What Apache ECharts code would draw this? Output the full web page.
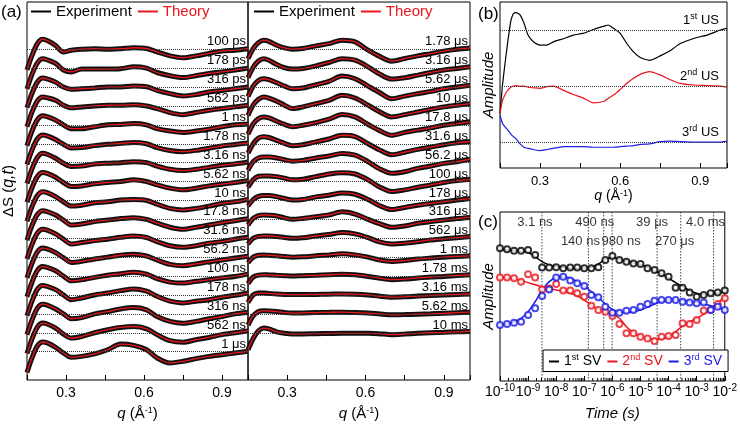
<!DOCTYPE html>
<html>
<head>
<meta charset="utf-8">
<script src="https://cdn.jsdelivr.net/npm/echarts@6/dist/echarts.min.js"></script>
<style>
html, body { margin: 0; padding: 0; background: #fff; }
#chart { width: 740px; height: 426px; }
</style>
</head>
<body>
<div id="chart"></div>
<script>
// q grid (1/Angstrom) for the stacked difference curves of panel (a)
const qA = [0.15, 0.17, 0.19, 0.21, 0.23, 0.26, 0.29, 0.32, 0.36, 0.41, 0.46, 0.51, 0.56, 0.61, 0.65, 0.70, 0.75, 0.80, 0.85, 0.90, 0.95, 1.00];

const delaysLeft = ['100 ps', '178 ps', '316 ps', '562 ps', '1 ns', '1.78 ns', '3.16 ns', '5.62 ns', '10 ns',
  '17.8 ns', '31.6 ns', '56.2 ns', '100 ns', '178 ns', '316 ns', '562 ns', '1 \u03bcs'];
const delaysRight = ['1.78 \u03bcs', '3.16 \u03bcs', '5.62 \u03bcs', '10 \u03bcs', '17.8 \u03bcs', '31.6 \u03bcs', '56.2 \u03bcs',
  '100 \u03bcs', '178 \u03bcs', '316 \u03bcs', '562 \u03bcs', '1 ms', '1.78 ms', '3.16 ms', '5.62 ms', '10 ms'];

// each curve relative to its own dotted baseline (units = baseline spacing)
const curvesLeft = [
  [-1.1, -0.3, 0.3, 0.53, 0.45, 0.2, -0.15, -0.05, 0, 0.03, 0, 0.03, 0.08, 0.04, -0.14, -0.35, -0.45, -0.35, -0.22, -0.1, -0.05, 0.03],
  [-1.1, -0.3, 0.28, 0.5, 0.43, 0.25, -0.1, -0.2, -0.05, -0.05, -0.05, -0.03, 0.07, 0, -0.23, -0.4, -0.5, -0.4, -0.28, -0.2, -0.1, 0],
  [-1.1, -0.3, 0.27, 0.48, 0.42, 0.26, 0, -0.12, -0.09, -0.05, 0, 0, 0.05, 0.02, -0.18, -0.35, -0.47, -0.4, -0.26, -0.18, -0.09, 0],
  [-1.1, -0.3, 0.27, 0.48, 0.43, 0.3, 0.04, -0.1, -0.05, 0, 0.04, 0.04, 0.07, 0, -0.14, -0.35, -0.46, -0.35, -0.23, -0.14, -0.05, 0.04],
  [-1.1, -0.3, 0.27, 0.48, 0.42, 0.25, 0, -0.2, -0.2, -0.1, 0, 0.02, 0.07, 0, -0.2, -0.33, -0.4, -0.33, -0.23, -0.1, 0, 0.05],
  [-1.1, -0.3, 0.26, 0.46, 0.4, 0.22, -0.03, -0.22, -0.2, -0.1, -0.03, 0.02, 0.07, 0, -0.2, -0.36, -0.42, -0.35, -0.24, -0.12, -0.04, 0.04],
  [-1.1, -0.3, 0.28, 0.5, 0.43, 0.23, -0.03, -0.2, -0.18, -0.07, -0.03, 0, 0.05, 0, -0.18, -0.35, -0.42, -0.35, -0.25, -0.14, -0.07, 0.03],
  [-1.1, -0.3, 0.27, 0.48, 0.42, 0.23, -0.05, -0.26, -0.23, -0.12, -0.05, 0, 0.09, 0, -0.18, -0.35, -0.44, -0.35, -0.23, -0.14, -0.05, 0.05],
  [-1.1, -0.3, 0.26, 0.46, 0.4, 0.2, -0.07, -0.3, -0.25, -0.12, -0.07, 0.02, 0.05, 0, -0.2, -0.42, -0.5, -0.42, -0.3, -0.16, -0.07, 0.05],
  [-1.1, -0.3, 0.26, 0.46, 0.4, 0.23, -0.04, -0.3, -0.25, -0.12, -0.04, 0.04, 0.09, 0, -0.2, -0.42, -0.53, -0.42, -0.3, -0.18, -0.07, 0.03],
  [-1.1, -0.3, 0.28, 0.48, 0.42, 0.23, -0.05, -0.3, -0.23, -0.12, -0.05, 0.05, 0.12, 0.04, -0.18, -0.4, -0.48, -0.4, -0.26, -0.18, -0.05, 0.05],
  [-1.1, -0.3, 0.28, 0.48, 0.42, 0.24, -0.03, -0.28, -0.22, -0.1, 0, 0.1, 0.15, 0.06, -0.15, -0.38, -0.45, -0.36, -0.25, -0.15, -0.05, 0.05],
  [-1.1, -0.3, 0.3, 0.5, 0.44, 0.28, 0, -0.25, -0.2, -0.07, 0.04, 0.12, 0.2, 0.1, -0.14, -0.32, -0.37, -0.28, -0.2, -0.1, -0.02, 0.1],
  [-1.1, -0.3, 0.3, 0.5, 0.44, 0.28, 0, -0.25, -0.16, 0, 0.1, 0.23, 0.32, 0.2, -0.07, -0.33, -0.42, -0.33, -0.25, -0.12, -0.02, 0.1],
  [-1.1, -0.3, 0.3, 0.51, 0.45, 0.26, 0, -0.26, -0.2, 0, 0.12, 0.26, 0.33, 0.21, -0.14, -0.4, -0.5, -0.4, -0.26, -0.14, 0, 0.09],
  [-1.1, -0.3, 0.3, 0.51, 0.45, 0.25, -0.07, -0.28, -0.2, 0, 0.16, 0.28, 0.33, 0.21, -0.1, -0.42, -0.5, -0.37, -0.25, -0.1, 0, 0.1],
  [-1.1, -0.3, 0.3, 0.51, 0.45, 0.23, -0.07, -0.3, -0.25, -0.12, 0.1, 0.4, 0.33, 0.1, -0.33, -0.6, -0.51, -0.37, -0.25, -0.16, -0.07, 0.02]
];
const curvesRight = [
  [-0.5, 0.03, 0.35, 0.48, 0.42, 0.21, 0.07, 0, 0.04, 0.18, 0.3, 0.48, 0.39, -0.05, -0.35, -0.63, -0.49, -0.35, -0.23, -0.1, 0, 0.07],
  [-0.5, 0.05, 0.38, 0.5, 0.42, 0.19, 0.02, -0.05, -0.02, 0.12, 0.3, 0.5, 0.42, 0.07, -0.28, -0.58, -0.51, -0.37, -0.23, -0.1, -0.02, 0.07],
  [-0.5, 0.05, 0.35, 0.44, 0.39, 0.23, 0.05, -0.09, -0.05, 0.12, 0.3, 0.58, 0.44, 0.05, -0.26, -0.62, -0.48, -0.35, -0.23, -0.09, 0, 0.09],
  [-0.5, 0.05, 0.35, 0.48, 0.42, 0.25, 0.04, -0.14, -0.05, 0.12, 0.3, 0.56, 0.42, 0.04, -0.28, -0.58, -0.46, -0.32, -0.18, -0.05, 0.04, 0.12],
  [-0.5, 0.05, 0.33, 0.42, 0.37, 0.19, 0.02, -0.1, -0.02, 0.12, 0.3, 0.55, 0.42, 0.02, -0.28, -0.55, -0.4, -0.28, -0.16, -0.02, 0.07, 0.16],
  [-0.5, 0, 0.3, 0.37, 0.33, 0.18, 0.02, -0.1, -0.05, 0.1, 0.25, 0.45, 0.38, 0, -0.3, -0.58, -0.45, -0.3, -0.18, -0.05, 0.05, 0.12],
  [-0.4, 0.05, 0.25, 0.3, 0.3, 0.25, 0.15, 0.08, 0.12, 0.25, 0.35, 0.49, 0.4, 0.05, -0.3, -0.56, -0.48, -0.3, -0.18, -0.04, 0.05, 0.18],
  [-0.3, 0.1, 0.28, 0.3, 0.3, 0.26, 0.18, 0.09, 0.12, 0.26, 0.4, 0.47, 0.4, 0.09, -0.26, -0.53, -0.44, -0.3, -0.18, -0.05, 0.05, 0.12],
  [-0.3, 0.05, 0.22, 0.26, 0.26, 0.2, 0.1, 0.02, 0.05, 0.19, 0.28, 0.4, 0.33, 0.05, -0.25, -0.48, -0.37, -0.25, -0.16, -0.07, 0.02, 0.1],
  [-0.3, 0.05, 0.2, 0.23, 0.22, 0.18, 0.08, 0, 0.05, 0.14, 0.23, 0.4, 0.28, 0, -0.21, -0.42, -0.35, -0.21, -0.12, -0.04, 0.04, 0.1],
  [-0.3, 0, 0.1, 0.12, 0.12, 0.09, 0.04, 0, 0.03, 0.12, 0.2, 0.3, 0.23, 0.03, -0.18, -0.3, -0.26, -0.18, -0.09, -0.03, 0.03, 0.09],
  [-0.3, 0, 0.1, 0.12, 0.1, 0.07, 0.03, 0, 0.02, 0.07, 0.12, 0.18, 0.12, 0, -0.14, -0.23, -0.18, -0.1, -0.05, 0, 0.04, 0.07],
  [-0.4, -0.05, 0.05, 0.07, 0.06, 0.04, 0.02, 0, 0.02, 0.04, 0.07, 0.1, 0.07, -0.02, -0.1, -0.19, -0.16, -0.1, -0.05, -0.02, 0.03, 0.07],
  [-0.4, 0, 0.1, 0.1, 0.08, 0.05, 0.03, 0.02, 0.02, 0.03, 0.04, 0.05, 0.04, 0, -0.06, -0.12, -0.1, -0.06, -0.03, 0, 0.03, 0.05],
  [-0.6, -0.1, 0.12, 0.16, 0.15, 0.12, 0.07, 0.04, 0.05, 0.07, 0.08, 0.09, 0.07, 0.04, 0, -0.05, -0.04, -0.02, 0, 0.03, 0.06, 0.09],
  [-0.9, -0.3, 0.1, 0.25, 0.2, 0.05, -0.03, -0.07, -0.06, -0.05, -0.04, -0.03, -0.03, -0.03, -0.05, -0.1, -0.07, -0.03, 0, 0.02, 0.05, 0.07]
];

// panel (b): singular vectors in q
const qB = [0.15, 0.16, 0.175, 0.19, 0.20, 0.21, 0.225, 0.24, 0.255, 0.275, 0.30, 0.325, 0.35, 0.39, 0.425, 0.46,
  0.50, 0.54, 0.555, 0.575, 0.60, 0.625, 0.65, 0.675, 0.71, 0.75, 0.79, 0.825, 0.875, 0.925, 0.975, 1.0];
const us1 = [-1.49, -0.95, -0.36, 0.15, 0.29, 0.31, 0.27, 0.12, -0.09, -0.21, -0.27, -0.27, -0.21, -0.15, -0.09, -0.06,
  0.01, 0.07, 0.09, 0.03, -0.06, -0.24, -0.39, -0.49, -0.54, -0.46, -0.36, -0.24, -0.15, -0.09, 0, 0.03];
const us2 = [-0.49, -0.25, -0.1, -0.02, 0, 0.01, 0, 0, -0.02, -0.03, -0.04, -0.01, 0, -0.08, -0.15, -0.21,
  -0.3, -0.27, -0.22, -0.16, -0.06, 0.05, 0.14, 0.21, 0.26, 0.2, 0.11, 0.05, 0.02, 0.01, 0, -0.02];
const us3 = [0.48, 0.33, 0.24, 0.15, 0.1, 0.06, -0.03, -0.09, -0.11, -0.13, -0.15, -0.13, -0.11, -0.08, -0.08, -0.08,
  -0.09, -0.09, -0.09, -0.09, -0.08, -0.07, -0.06, -0.04, -0.03, 0.01, 0.02, 0.01, 0, 0, 0, 0.02];
const usLabels = ['{n|1}{s|st}{n| US}', '{n|2}{s|nd}{n| US}', '{n|3}{s|rd}{n| US}'];

// panel (c): time dependence of the singular vectors
const times = [1e-10, 1.78e-10, 3.16e-10, 5.62e-10, 1e-9, 1.78e-9, 3.16e-9, 5.62e-9, 1e-8, 1.78e-8, 3.16e-8, 5.62e-8,
  1e-7, 1.78e-7, 3.16e-7, 5.62e-7, 1e-6, 1.78e-6, 3.16e-6, 5.62e-6, 1e-5, 1.78e-5, 3.16e-5, 5.62e-5,
  1e-4, 1.78e-4, 3.16e-4, 5.62e-4, 1e-3, 1.78e-3, 3.16e-3, 5.62e-3, 1e-2];
const sv1Pts = [7.85, 7.79, 7.71, 7.71, 7.75, 7.46, 6.71, 6.71, 6.73, 6.67, 6.71, 6.71, 6.67, 6.67, 6.73, 7.16, 7.40,
  7.16, 7.06, 6.96, 6.92, 6.67, 6.57, 6.37, 6.17, 5.52, 5.52, 5.23, 4.99, 5.09, 5.19, 5.23, 5.35];
const sv1Fit = [7.79, 7.75, 7.71, 7.67, 7.6, 7.36, 7.06, 6.87, 6.77, 6.71, 6.67, 6.65, 6.67, 6.73, 6.92, 7.2, 7.32,
  7.2, 7.08, 7.0, 6.89, 6.73, 6.53, 6.33, 6.08, 5.82, 5.59, 5.35, 5.19, 5.11, 5.13, 5.19, 5.29];
const sv2Pts = [6.13, 6.13, 6.08, 5.88, 6.31, 6.13, 5.42, 5.48, 5.74, 5.35, 5.35, 5.19, 4.99, 4.46, 4.20, 4.10, 3.85,
  3.37, 2.82, 2.82, 2.62, 2.52, 2.37, 2.62, 2.66, 2.72, 3.41, 3.37, 3.61, 4.16, 4.20, 4.56, 4.89];
const sv2Fit = [6.13, 6.09, 6.02, 5.94, 5.82, 5.70, 5.58, 5.48, 5.38, 5.29, 5.19, 5.03, 4.79, 4.50, 4.24, 4.10, 3.96,
  3.71, 3.21, 2.86, 2.66, 2.52, 2.46, 2.48, 2.62, 2.92, 3.25, 3.51, 3.71, 3.96, 4.20, 4.60, 4.99];
const sv3Pts = [3.31, 3.37, 3.45, 3.51, 3.90, 4.30, 5.03, 5.42, 6.13, 6.17, 5.94, 5.78, 5.62, 5.09, 4.95, 4.40, 4.04,
  4.04, 4.16, 4.20, 4.40, 4.56, 4.75, 4.79, 4.79, 4.79, 4.69, 4.64, 4.60, 4.64, 4.20, 4.40, 4.20];
const sv3Fit = [3.31, 3.37, 3.49, 3.71, 4.10, 4.69, 5.38, 5.88, 6.13, 6.17, 6.08, 5.88, 5.62, 5.29, 4.95, 4.56, 4.24,
  4.08, 4.06, 4.10, 4.20, 4.36, 4.56, 4.69, 4.79, 4.79, 4.75, 4.69, 4.64, 4.56, 4.46, 4.36, 4.24];
const svLabels = ['{n|1}{s|st}{n| SV}', '{n|2}{s|nd}{n| SV}', '{n|3}{s|rd}{n| SV}'];

// time constants marked with dotted lines
const markTimes = [3.1e-9, 1.4e-7, 4.9e-7, 9.8e-7, 3.9e-5, 2.7e-4, 4.0e-3];
const markNames = ['3.1 ns', '140 ns', '490 ns', '980 ns', '39 \u03bcs', '270 \u03bcs', '4.0 ms'];
const markRow = [0, 1, 0, 1, 0, 1, 0];
const markDx = [-7, -8, -9, 9, -5, -6, -8];

const decadeExps = [-10, -9, -8, -7, -6, -5, -4, -3];

const RED = '#e8161d';
const BLUE = '#1c1ce6';
const FONT = '"Liberation Sans", Arial, sans-serif';
const SUP = { fontSize: 9, lineHeight: 10, verticalAlign: 'top', fontFamily: FONT };

let chart = echarts.init(document.getElementById('chart'));

function stack(curves, labels, ax) {
  let out = [];
  curves.forEach(function (c, k) {
    let pts = qA.map(function (q, i) { return [q, c[i] - k]; });
    out.push({
      name: 'Experiment', type: 'line', xAxisIndex: ax, yAxisIndex: ax, data: pts,
      smooth: 0.3, symbol: 'none', silent: true, z: 2,
      itemStyle: { color: '#000' }, lineStyle: { color: '#111', width: 5 }
    });
    out.push({
      name: 'Theory', type: 'line', xAxisIndex: ax, yAxisIndex: ax, data: pts,
      smooth: 0.3, symbol: 'none', silent: true, z: 3,
      itemStyle: { color: RED }, lineStyle: { color: RED, width: 1.3 },
      markLine: {
        symbol: 'none', silent: true,
        lineStyle: { color: '#333', type: 'dotted', width: 1 },
        label: { position: 'insideEndTop', formatter: labels[k], color: '#000', fontSize: 13, fontFamily: FONT, distance: [2, 1] },
        data: [{ yAxis: -k }]
      }
    });
  });
  return out;
}

function qAxis(grid, nameGap, labelSize, margin) {
  return {
    type: 'value', gridIndex: grid, min: 0.15, max: 1.0, interval: 0.15,
    axisLine: { show: false, onZero: false }, splitLine: { show: false },
    axisTick: { inside: true, length: 5, lineStyle: { color: '#000' } },
    axisLabel: {
      color: '#000', fontSize: labelSize, fontFamily: FONT, margin: margin,
      formatter: function (v) {
        let r = v / 0.3;
        return (v > 0.2 && Math.abs(r - Math.round(r)) < 1e-6) ? v.toFixed(1) : '';
      }
    },
    name: '{i|q} (\u00c5{s|-1})', nameLocation: 'middle', nameGap: nameGap,
    nameTextStyle: { color: '#000', fontSize: labelSize + 1, fontFamily: FONT,
      rich: { i: { fontStyle: 'italic', fontSize: labelSize + 1, fontFamily: FONT }, s: SUP } }
  };
}

function blankY(grid, min, max, name, gap) {
  return {
    type: 'value', gridIndex: grid, min: min, max: max,
    axisLine: { show: false, onZero: false }, axisTick: { show: false }, axisLabel: { show: false }, splitLine: { show: false },
    name: name, nameLocation: 'middle', nameGap: gap, nameRotate: 90,
    nameTextStyle: { color: '#000', fontSize: 15, fontFamily: FONT, fontStyle: name === 'Amplitude' ? 'italic' : 'normal',
      rich: { i: { fontStyle: 'italic', fontSize: 16, fontFamily: FONT } } }
  };
}

let usColors = ['#000', RED, BLUE];
let usSeries = [us1, us2, us3].map(function (d, k) {
  return {
    name: 'US' + (k + 1), type: 'line', xAxisIndex: 2, yAxisIndex: 2,
    data: qB.map(function (q, i) { return [q, d[i] - k]; }),
    symbol: 'none', smooth: 0.2, silent: true,
    lineStyle: { color: usColors[k], width: 1.2 },
    markLine: {
      symbol: 'none', silent: true,
      lineStyle: { color: '#333', type: 'dotted', width: 1 },
      label: {
        position: 'insideEndTop', formatter: usLabels[k], distance: [8, 1],
        rich: { n: { fontSize: 13, lineHeight: 17, color: '#000', fontFamily: FONT }, s: Object.assign({ color: '#000' }, SUP) }
      },
      data: [{ yAxis: -k }]
    }
  };
});

let svPts = [sv1Pts, sv2Pts, sv3Pts];
let svFit = [sv1Fit, sv2Fit, sv3Fit];
let svSeries = [];
// dotted vertical lines at the fitted time constants
svSeries.push({
  name: 'vlines', type: 'custom', xAxisIndex: 3, yAxisIndex: 3, silent: true, z: 1,
  data: markTimes.map(function (t) { return [t, 0]; }),
  renderItem: function (params, api) {
    let x = api.coord([api.value(0), 0])[0];
    let cs = params.coordSys;
    return { type: 'line', shape: { x1: x, y1: cs.y, x2: x, y2: cs.y + cs.height },
      style: { stroke: '#2f4a5a', lineWidth: 1, lineDash: [1.5, 1.5] } };
  }
});
svFit.forEach(function (d, k) {
  svSeries.push({
    name: 'SV' + (k + 1), type: 'line', xAxisIndex: 3, yAxisIndex: 3,
    data: times.map(function (t, i) { return [t, d[i]]; }),
    symbol: 'none', smooth: 0.4, silent: true, z: 3,
    itemStyle: { color: usColors[k] }, lineStyle: { color: usColors[k], width: 1.5 }
  });
});
svPts.forEach(function (d, k) {
  svSeries.push({
    name: 'SV' + (k + 1), type: 'scatter', xAxisIndex: 3, yAxisIndex: 3,
    data: times.map(function (t, i) { return [t, d[i]]; }),
    symbol: 'emptyCircle', symbolSize: 6, silent: true, z: 4,
    itemStyle: { color: usColors[k], borderWidth: 1 }
  });
});
svSeries.push({
  name: 'marks', type: 'scatter', xAxisIndex: 3, yAxisIndex: 3, symbolSize: 0, silent: true, z: 5,
  data: markTimes.map(function (t, i) {
    return { value: [t, markRow[i] ? 8.25 : 9.4], label: { offset: [markDx[i], 0], formatter: markNames[i] } };
  }),
  label: { show: true, position: 'inside', color: '#000', fontSize: 13, fontFamily: FONT }
});
// logarithmic minor ticks along the time axis
let minorTimes = [];
decadeExps.forEach(function (e) {
  [2, 3, 4, 5, 6, 7, 8, 9].forEach(function (m) { minorTimes.push(m * Math.pow(10, e)); });
});
svSeries.push({
  name: 'minor', type: 'custom', xAxisIndex: 3, yAxisIndex: 3, silent: true,
  data: minorTimes.map(function (t) { return [t, 0]; }),
  renderItem: function (params, api) {
    let x = api.coord([api.value(0), 0])[0];
    let y0 = params.coordSys.y + params.coordSys.height;
    return { type: 'line', shape: { x1: x, y1: y0, x2: x, y2: y0 - 3 }, style: { stroke: '#000', lineWidth: 1 } };
  }
});

function svItem(k, color) {
  return {
    name: 'SV' + (k + 1),
    textStyle: { color: color, rich: { n: { fontSize: 14, lineHeight: 17, color: color, fontFamily: FONT }, s: Object.assign({ color: color }, SUP) } }
  };
}

function abLegend(left) {
  return {
    left: left, top: 4, padding: 0, selectedMode: false, icon: 'rect', itemWidth: 20, itemHeight: 2, itemGap: 6,
    textStyle: { fontSize: 15, fontFamily: FONT },
    data: [{ name: 'Experiment', textStyle: { color: '#000' } }, { name: 'Theory', textStyle: { color: RED } }]
  };
}

let gridBox = { show: true, borderColor: '#000', borderWidth: 1, backgroundColor: 'transparent' };

let option = {
  animation: false,
  textStyle: { fontFamily: FONT },
  title: [
    { text: '(a)', left: 1, top: 4, padding: 0, textStyle: { fontSize: 17, fontWeight: 'normal', fontFamily: FONT, color: '#000' } },
    { text: '(b)', left: 478, top: 6, padding: 0, textStyle: { fontSize: 17, fontWeight: 'normal', fontFamily: FONT, color: '#000' } },
    { text: '(c)', left: 478, top: 214, padding: 0, textStyle: { fontSize: 17, fontWeight: 'normal', fontFamily: FONT, color: '#000' } }
  ],
  legend: [
    abLegend(31),
    abLegend(254),
    {
      left: 543, top: 350, selectedMode: false, icon: 'rect', itemWidth: 10, itemHeight: 2, itemGap: 6,
      borderColor: '#000', borderWidth: 1, padding: [3, 6], backgroundColor: '#fff',
      textStyle: { fontSize: 14, fontFamily: FONT },
      formatter: function (n) { return svLabels[Number(n.slice(2)) - 1]; },
      data: [svItem(0, '#000'), svItem(1, RED), svItem(2, BLUE)]
    }
  ],
  grid: [
    Object.assign({ left: 25, top: 2, width: 223, height: 378 }, gridBox),
    Object.assign({ left: 248, top: 2, width: 222, height: 378 }, gridBox),
    Object.assign({ left: 500, top: 2, width: 227, height: 166 }, gridBox),
    Object.assign({ left: 500, top: 212, width: 227, height: 169 }, gridBox)
  ],
  xAxis: [
    qAxis(0, 26, 14, 6),
    qAxis(1, 26, 14, 6),
    qAxis(2, 17, 13, 7),
    {
      type: 'log', gridIndex: 3, logBase: 10, min: 1e-10, max: 1e-2, interval: 1,
      axisLine: { show: false, onZero: false }, splitLine: { show: false },
      axisTick: { inside: true, length: 5, lineStyle: { color: '#000' } },
      axisLabel: {
        interval: 0, hideOverlap: false, showMinLabel: true, showMaxLabel: true, margin: 2, color: '#000',
        formatter: function (v) { return '{b|10}{s|' + Math.round(Math.log10(v)) + '}'; },
        rich: { b: { fontSize: 14, lineHeight: 19, color: '#000', fontFamily: FONT },
          s: { fontSize: 10, lineHeight: 10, verticalAlign: 'top', color: '#000', fontFamily: FONT } }
      },
      name: 'Time (s)', nameLocation: 'middle', nameGap: 25,
      nameTextStyle: { color: '#000', fontSize: 15, fontStyle: 'italic', fontFamily: FONT }
    }
  ],
  yAxis: [
    blankY(0, -17.5, 2.5, '\u0394S ({i|q,t})', 10),
    blankY(1, -17.5, 2.5, '', 10),
    blankY(2, -2.46, 0.5, 'Amplitude', 4),
    blankY(3, 0, 10, 'Amplitude', 4)
  ],
  series: stack(curvesLeft, delaysLeft, 0)
    .concat(stack(curvesRight, delaysRight, 1))
    .concat(usSeries)
    .concat(svSeries)
};
chart.setOption(option);
</script>
</body>
</html>
